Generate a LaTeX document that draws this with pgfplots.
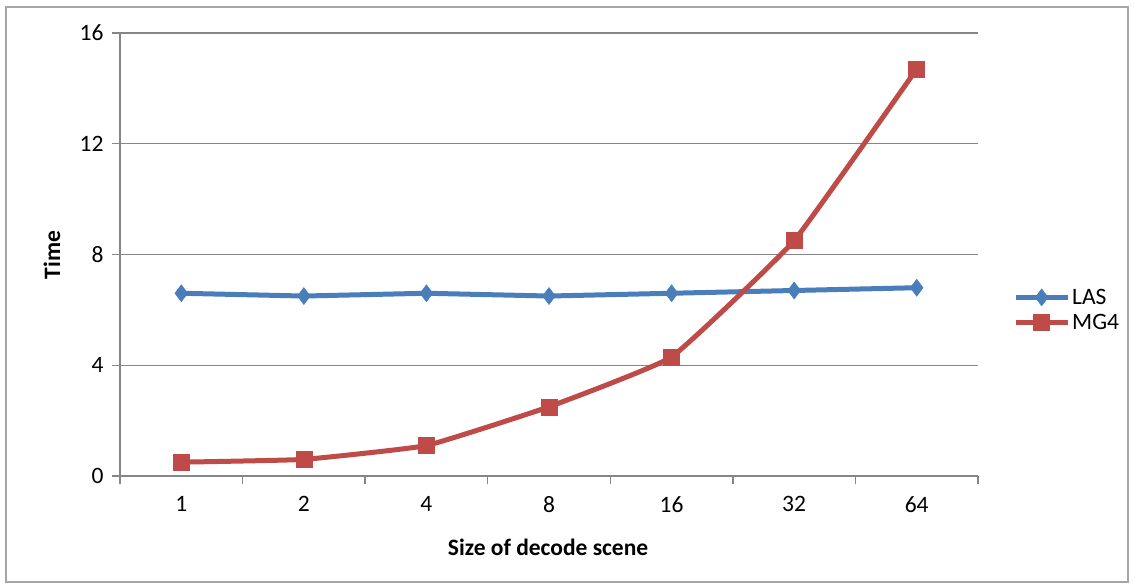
\documentclass[border=0pt]{standalone}
\usepackage{fontspec}
\setmainfont{Carlito}
\usepackage{pgfplots}
\pgfplotsset{compat=1.18}
\definecolor{lasblue}{HTML}{4A7EBB}
\definecolor{mgred}{HTML}{BE4B48}
\definecolor{gridgray}{HTML}{868686}
\definecolor{framegray}{HTML}{A6A6A6}
\newcommand{\chartfont}{\fontsize{23.5bp}{28bp}\selectfont}
\begin{document}
\begin{tikzpicture}
\useasboundingbox (-120bp,-110bp) rectangle (1014bp,476bp);
\draw[framegray, line width=1.5bp] (-114bp,-106bp) rectangle (1008bp,469bp);
\begin{axis}[
  at={(0,0)}, anchor=south west,
  scale only axis, width=858bp, height=443bp,
  xmin=-0.5, xmax=6.5, ymin=0, ymax=16,
  axis lines*=left,
  axis line style={gridgray, line width=1.3bp},
  ytick={0,4,...,16},
  xtick={0,...,6},
  xticklabels={1,2,4,8,16,32,64},
  xtick style={draw=none},
  extra x ticks={-0.5,0.5,...,6.5},
  extra x tick labels={},
  extra x tick style={xtick style={draw=gridgray, line width=1.3bp}},
  ytick style={gridgray, line width=1.3bp},
  major tick length=8bp,
  tick align=outside,
  ymajorgrids,
  major grid style={gridgray, line width=1.3bp},
  tick label style={font=\chartfont, /pgf/number format/assume math mode=true},
  yticklabel style={xshift=-5bp},
  xticklabel style={yshift=-9bp},
  xlabel={Size of decode scene},
  ylabel={Time},
  every axis x label/.style={at={(axis description cs:0.499,-0.160)}, anchor=center, font=\chartfont\bfseries},
  every axis y label/.style={at={(axis description cs:-0.0793,0.499)}, rotate=90, anchor=center, font=\chartfont\bfseries},
  legend style={at={(893bp,166bp)}, anchor=west, draw=none, fill=none,
    font=\chartfont, row sep=4.5bp, inner sep=0pt,
    /tikz/every even column/.append style={column sep=1bp}},
  legend cell align=left,
  legend image code/.code={
    \draw[#1, mark=none] (0bp,0bp) -- (52bp,0bp);
    \draw[#1, only marks] plot coordinates {(26bp,0bp)};
  },
  clip=false,
]
\addplot[lasblue, line width=5bp, mark=diamond*, mark size=8.5bp,
  mark options={solid, line width=0.5bp}] coordinates {
  (0,6.6) (1,6.5) (2,6.6) (3,6.5) (4,6.6) (5,6.7) (6,6.8)};
\addlegendentry{LAS}
\addplot[mgred, line width=5bp, mark=square*, mark size=8bp,
  mark options={solid, line width=0.5bp}, smooth, tension=0.2] coordinates {
  (0,0.5) (1,0.6) (2,1.1) (3,2.5) (4,4.3) (5,8.5) (6,14.7)};
\addlegendentry{MG4}
\end{axis}
\end{tikzpicture}
\end{document}
